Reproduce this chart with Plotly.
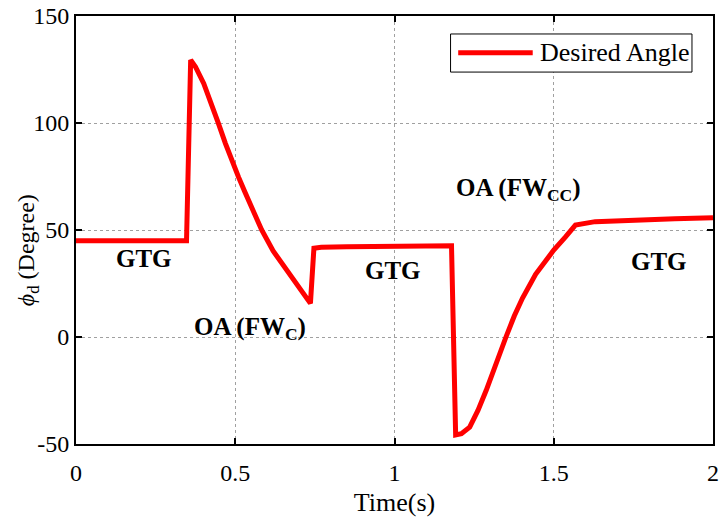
import plotly.graph_objects as go

t = [0.0, 0.347, 0.360, 0.375, 0.401, 0.422, 0.446, 0.469, 0.489, 0.510, 0.531, 0.557, 0.583,
     0.619, 0.655, 0.692, 0.736, 0.747, 0.770, 0.85, 1.0, 1.179,
     1.192, 1.210, 1.236, 1.262, 1.288, 1.314, 1.350, 1.376, 1.402, 1.443, 1.500, 1.537, 1.568,
     1.63, 1.75, 1.88, 2.0]
phi = [45, 45, 129.4, 126.3, 118.5, 110.7, 100.3, 90.5, 82.4, 74.8, 67.5, 58.8, 50,
       40.2, 32.6, 24.6, 15.7, 41.5, 41.9, 42.2, 42.4, 42.6,
       -45.8, -45.2, -42.1, -34.3, -24.9, -14, 0, 9.8, 18.2, 29.3, 40.6, 46.8, 52.3,
       53.9, 54.7, 55.2, 55.7]

labels = ["GTG", "OA (FW<sub>C</sub>)", "GTG", "OA (FW<sub>CC</sub>)", "GTG"]
label_x = [0.212, 0.547, 0.995, 1.389, 1.830]
label_y = [36.5, 4.0, 31.3, 69.0, 35.5]

x_ticks = [0, 0.5, 1, 1.5, 2]
x_ticktext = ["0", "0.5", "1", "1.5", "2"]
y_ticks = [-50, 0, 50, 100, 150]
y_ticktext = ["-50", "0", "50", "100", "150"]

font = "Liberation Serif, Times New Roman, serif"

fig = go.Figure()
fig.add_trace(go.Scatter(x=t, y=phi, mode="lines", name="Desired Angle",
                         line=dict(color="#ff0000", width=5), showlegend=False))

for txt, x, y in zip(labels, label_x, label_y):
    fig.add_annotation(x=x, y=y, text="<b>" + txt + "</b>", showarrow=False,
                       font=dict(family=font, size=25, color="black"),
                       xanchor="center", yanchor="middle")

# y-axis title
fig.add_annotation(xref="paper", yref="paper", x=-0.075, y=(444 - 250) / 428,
                   text="<i>ϕ</i><sub>d</sub> (Degree)", textangle=-90, showarrow=False,
                   font=dict(family=font, size=24, color="black"),
                   xanchor="center", yanchor="middle")

# legend (drawn by hand so the line sample matches the reference length)
fig.add_shape(type="rect", xref="x domain", yref="y domain", x0=0.588, x1=0.967, y0=0.869, y1=0.958,
              line=dict(color="black", width=1), fillcolor="white", layer="above")
fig.add_shape(type="line", xref="x domain", yref="y domain", x0=0.600, x1=0.717, y0=0.914, y1=0.914,
              line=dict(color="#ff0000", width=5), layer="above")
fig.add_annotation(xref="x domain", yref="y domain", x=0.726, y=0.914, text="Desired Angle",
                   showarrow=False, xanchor="left", yanchor="middle",
                   font=dict(family=font, size=26, color="black"))

axis_common = dict(showline=True, linecolor="black", linewidth=2, mirror="ticks",
                   ticks="inside", ticklen=6, tickwidth=2, tickcolor="black",
                   showgrid=True, gridcolor="#a0a0a0", griddash="dot", gridwidth=1,
                   zeroline=False, tickfont=dict(family=font, size=24, color="black"),
                   ticklabeloverflow="allow")

fig.update_xaxes(range=[0, 2], tickvals=x_ticks, ticktext=x_ticktext, ticklabelstandoff=6,
                 title=dict(text="Time(s)", font=dict(family=font, size=26, color="black"), standoff=8),
                 **axis_common)
fig.update_yaxes(range=[-50, 150], tickvals=y_ticks, ticktext=y_ticktext,
                 **axis_common)

fig.update_layout(
    width=722, height=519,
    margin=dict(l=76, r=3, t=16, b=75),
    plot_bgcolor="white", paper_bgcolor="white",
    showlegend=False,
)

fig.write_html("out.html")
